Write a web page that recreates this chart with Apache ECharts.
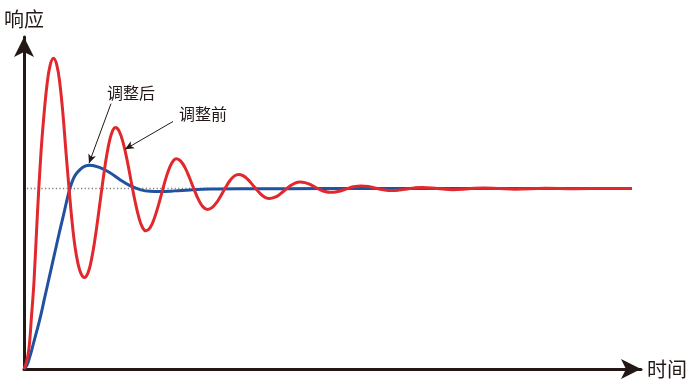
<!DOCTYPE html>
<html>
<head>
<meta charset="utf-8">
<script src="https://cdn.jsdelivr.net/npm/echarts@6/dist/echarts.min.js"></script>
<style>html,body{margin:0;padding:0;background:#fff;}#c{width:692px;height:379px;}</style>
</head>
<body>
<div id="c"></div>
<script>
// Time axis (arbitrary units) and response values
const redBefore = [
[0,0],[2.5,7],[5,21],[7.5,53],[10,88],[13.3,154],[17,218],[20,256],[23,286],[26,305],[29.5,312.5],
[33,305],[36,286],[39,256],[42,218],[45,182],[48,149],[51,123],[54,106],[57,96],[60.5,92],
[64,96.7],[67,107.8],[70.5,127.5],[74,152.3],[77,175.1],[80,197.2],[83,216.7],[86,231.5],[89,240.6],[91.5,243],
[95,239.6],[99,228.2],[103,210.6],[107,189.6],[111,169],[115,152],[118.5,142.4],[122,139],
[126,142],[130,150.6],[134,163.3],[138,178],[142,192.3],[146,203.6],[149.5,209.8],[152.5,211.5],
[156.5,209.4],[161,202.6],[165.5,192.4],[170,180.9],[174.5,170.4],[179,163.1],[183.5,160.5],
[188,162.3],[192.5,167.3],[197,174.6],[201.5,182.5],[206,189.6],[210.5,194.3],[214.5,195.7],
[219,194.5],[223.5,191],[228,186],[232.5,180.6],[237,175.7],[241.5,172.5],[245.5,171.5],
[251,172.8],[256,175.9],[261,180.1],[266,184.2],[271,187.1],[276,188.2],
[281,187.5],[286,185.7],[291,183.1],[296,180.5],[301,178.5],[306.5,177.7],
[314,178.6],[322,181],[329.5,183.3],[337,184.2],[344.5,183.5],[352,181.8],[360,180.2],[367.5,179.5],
[375,180],[383,181.1],[390.5,182.2],[398,182.7],[413.5,181.5],[429,180.4],[444.5,181.3],[460,182.2],
[475.5,181.5],[491,180.9],[521,181.8],[551,181.4],[581,181.6],[608,181.6]
];
const blueAfter = [
[0,0],[3,4],[6,13],[9,24],[13,39],[17,55],[20.5,71],[24.3,88],[28,104.5],[31.7,121],[35.5,138],
[39.3,154],[42,166],[45,178.5],[48,188],[51,194.5],[56,200.5],[61,204],[66,205],[76,202.5],
[86,197.5],[96,190.5],[106,184.5],[116,180.5],[126,178.7],[136,178.5],[151,179.2],[166,180.2],
[186,181],[226,181.3],[300,181.5],[400,181.5],[500,181.5],[608,181.5]
];
const setpoint = [[3,181.7],[608,181.7]];
const labelAfter = {text:'调整后', pos:[107,278], from:[87,267], to:[65,207]};
const labelBefore = {text:'调整前', pos:[179,257], from:[149,249], to:[101,221]};
const axisNames = {x:'时间', y:'响应'};

const font = '"Noto Sans CJK SC","Noto Sans",sans-serif';
const ink = '#231815';
const chart = echarts.init(document.getElementById('c'), null, {renderer:'canvas'});

function annot(a){
  return {
    silent:true,
    symbol:['none','arrow'],
    symbolSize:[6,9],
    lineStyle:{color:ink,width:1,type:'solid'},
    label:{show:false},
    data:[[{coord:a.from},{coord:a.to}]]
  };
}
function annotText(a){
  return {
    silent:true,
    symbol:'circle', symbolSize:0,
    label:{show:true,position:'inside',formatter:a.text,color:ink,fontSize:16,fontFamily:font},
    data:[{coord:a.pos}]
  };
}

chart.setOption({
  animation:false,
  grid:{left:24,right:51,top:37,bottom:8,containLabel:false},
  xAxis:{
    type:'value',min:0,max:617,
    name:axisNames.x,nameLocation:'end',nameGap:6,
    nameTextStyle:{color:ink,fontSize:20,fontFamily:font,verticalAlign:'middle'},
    axisLine:{show:true,symbol:['none','arrow'],symbolSize:[15,20],lineStyle:{color:ink,width:3}},
    axisTick:{show:false},axisLabel:{show:false},splitLine:{show:false}
  },
  yAxis:{
    type:'value',min:0,max:334,
    name:axisNames.y,nameLocation:'end',nameGap:8,
    nameTextStyle:{color:ink,fontSize:20,fontFamily:font,align:'center'},
    axisLine:{show:true,symbol:['none','arrow'],symbolSize:[15,20],lineStyle:{color:ink,width:3}},
    axisTick:{show:false},axisLabel:{show:false},splitLine:{show:false}
  },
  series:[
    {type:'line',data:setpoint,showSymbol:false,silent:true,
     lineStyle:{color:'#7a7a7a',width:1.5,type:[1.2,2.4]}},
    {type:'line',data:blueAfter,showSymbol:false,smooth:0.4,silent:true,
     lineStyle:{color:'#2152a0',width:3},
     markLine:annot(labelAfter),markPoint:annotText(labelAfter)},
    {type:'line',data:redBefore,showSymbol:false,smooth:0.4,silent:true,
     lineStyle:{color:'#e1282d',width:3},
     markLine:annot(labelBefore),markPoint:annotText(labelBefore)}
  ]
});
</script>
</body>
</html>
